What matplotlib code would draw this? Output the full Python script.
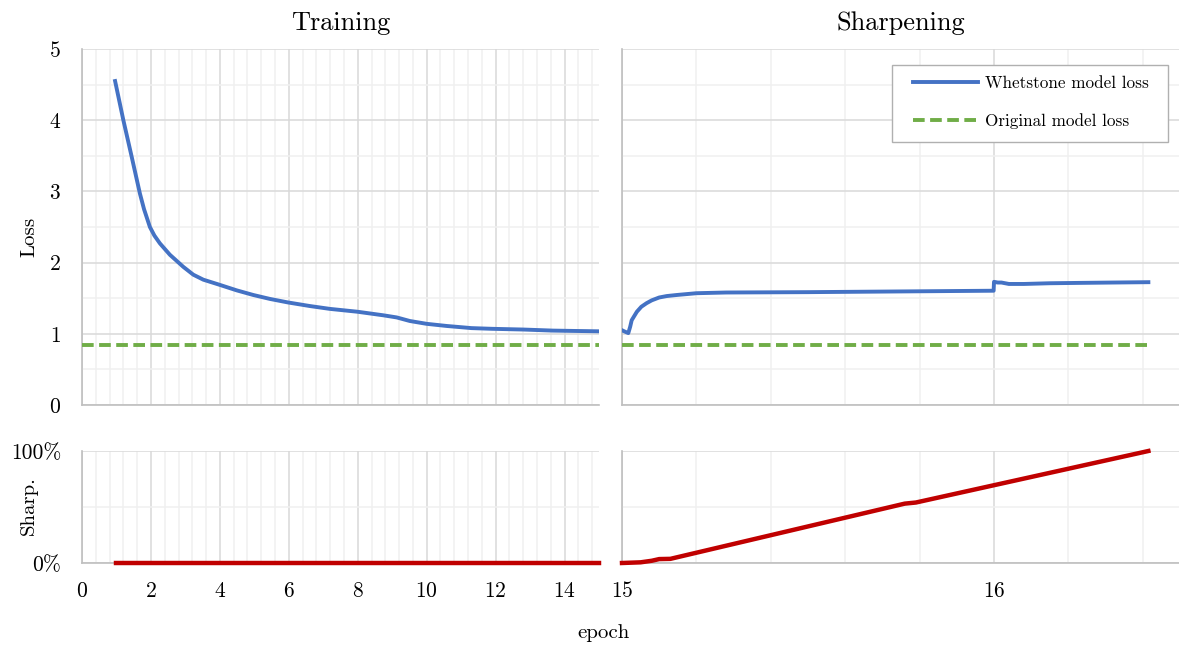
import matplotlib
matplotlib.use("Agg")
import matplotlib.pyplot as plt
from matplotlib.patches import Rectangle
from matplotlib.ticker import MultipleLocator, PercentFormatter, NullFormatter

plt.rcParams["font.family"] = ["cmr10", "DejaVu Serif"]
plt.rcParams["axes.formatter.use_mathtext"] = True

# ---- data -------------------------------------------------------------
train_epoch = [0.96, 1.2, 1.44, 1.68, 1.8, 1.97, 2.1, 2.26, 2.55, 2.94, 3.23,
               3.52, 3.98, 4.49, 4.97, 5.45, 5.98, 6.61, 7.19, 7.99, 8.74,
               9.13, 9.51, 10.0, 10.58, 11.3, 11.9, 12.8, 13.66, 14.3, 15.0]
train_loss = [4.55, 4.00, 3.49, 2.97, 2.75, 2.50, 2.38, 2.27, 2.11, 1.94, 1.83,
              1.76, 1.69, 1.61, 1.545, 1.49, 1.44, 1.39, 1.35, 1.31, 1.26,
              1.23, 1.18, 1.14, 1.11, 1.08, 1.07, 1.06, 1.045, 1.04, 1.035]

sharp_epoch = [15.0, 15.008, 15.017, 15.022, 15.026, 15.04, 15.052, 15.066,
               15.08, 15.1, 15.12, 15.147, 15.2, 15.28, 15.5, 15.75,
               15.999, 16.0, 16.01, 16.02, 16.04, 16.08, 16.15, 16.23, 16.32,
               16.415]
sharp_loss = [1.05, 1.03, 1.01, 1.10, 1.19, 1.31, 1.38, 1.43, 1.47, 1.51,
              1.53, 1.545, 1.57, 1.58, 1.585, 1.595,
              1.605, 1.73, 1.72, 1.72, 1.70, 1.70, 1.71, 1.715, 1.72,
              1.725]

original_loss = 0.84
train_span = [0, 15]
sharpen_span = [15, 16.41]

train_sharp_epoch = [1.0, 15.0]
train_sharp = [0.0, 0.0]

ramp_epoch = [15.0, 15.05, 15.08, 15.1, 15.13, 15.76, 15.79, 16.415]
ramp_sharp = [0.0, 0.006, 0.02, 0.035, 0.037, 0.53, 0.54, 1.0]

# ---- styling ----------------------------------------------------------
BLUE = "#4472C4"
GREEN = "#70AD47"
RED = "#C00000"
MAJOR = "#D9D9D9"
MINOR = "#F0F0F0"
SPINE = "#BFBFBF"
TICK_FS = 15.5
LABEL_FS = 15
TITLE_FS = 19

fig = plt.figure(figsize=(11.79, 6.45), dpi=100)

W, H = 1179.0, 645.0
def box(x0, y0, x1, y1):
    return [x0 / W, 1 - y1 / H, (x1 - x0) / W, (y1 - y0) / H]

ax_tl = fig.add_axes(box(82, 49, 599, 405))
ax_tr = fig.add_axes(box(622, 49, 1180, 405))
ax_bl = fig.add_axes(box(82, 451, 599, 563))
ax_br = fig.add_axes(box(622, 451, 1180, 563))


def style(ax, xmaj, xmin, ymaj, ymin):
    ax.xaxis.set_major_locator(MultipleLocator(xmaj))
    ax.xaxis.set_minor_locator(MultipleLocator(xmin))
    ax.yaxis.set_major_locator(MultipleLocator(ymaj))
    ax.yaxis.set_minor_locator(MultipleLocator(ymin))
    ax.grid(which="major", color=MAJOR, linewidth=1.1, zorder=0)
    ax.grid(which="minor", color=MINOR, linewidth=1.1, zorder=0)
    ax.set_axisbelow(True)
    for s in ("top", "right"):
        ax.spines[s].set_visible(False)
    for s in ("left", "bottom"):
        ax.spines[s].set_color(SPINE)
        ax.spines[s].set_linewidth(1.2)
    ax.tick_params(which="both", length=0, labelsize=TICK_FS)
    ax.tick_params(axis="y", pad=15)
    ax.tick_params(axis="x", pad=13)


# Training loss
style(ax_tl, 2, 0.4, 1, 0.5)
ax_tl.set_xlim(0, 15)
ax_tl.set_ylim(0, 5)
ax_tl.plot(train_epoch, train_loss, color=BLUE, lw=2.8, zorder=3)
ax_tl.plot(train_span, [original_loss] * 2, color=GREEN, lw=2.8, ls=(0, (3, 1.4)), zorder=3)
ax_tl.xaxis.set_major_formatter(NullFormatter())
ax_tl.set_title("Training", fontsize=TITLE_FS, pad=14)

# Sharpening loss
style(ax_tr, 1, 0.2, 1, 0.5)
ax_tr.set_xlim(15, 16.5)
ax_tr.set_ylim(0, 5)
ax_tr.plot(sharp_epoch, sharp_loss, color=BLUE, lw=2.8, label="Whetstone model loss", zorder=3)
ax_tr.plot(sharpen_span, [original_loss] * 2, color=GREEN, lw=2.8, ls=(0, (3, 1.4)),
           label="Original model loss", zorder=3)
ax_tr.xaxis.set_major_formatter(NullFormatter())
ax_tr.yaxis.set_major_formatter(NullFormatter())
ax_tr.set_title("Sharpening", fontsize=TITLE_FS, pad=14)

# legend frame drawn separately so the padding can differ per side
frame = Rectangle((891.5 / W, 1 - 141.7 / H), (1168 - 891.5) / W, (141.7 - 65) / H,
                  transform=fig.transFigure, facecolor="white",
                  edgecolor="#B0B0B0", linewidth=1.0, zorder=4, clip_on=False)
ax_tr.add_patch(frame)
leg = ax_tr.legend(loc="upper left", bbox_to_anchor=(908 / W, 1 - 71 / H),
                   bbox_transform=fig.transFigure, fontsize=12.3, frameon=False,
                   handlelength=3.8, handletextpad=0.4, labelspacing=1.3,
                   borderpad=0.3, borderaxespad=0)
leg.set_zorder(6)

# Sharpness during training
style(ax_bl, 2, 0.4, 1, 0.5)
ax_bl.set_xlim(0, 15)
ax_bl.set_ylim(0, 1)
ax_bl.plot(train_sharp_epoch, train_sharp, color=RED, lw=3.2, zorder=3, clip_on=False)
ax_bl.yaxis.set_major_formatter(PercentFormatter(xmax=1, decimals=0))

# Sharpness during sharpening
style(ax_br, 1, 0.2, 1, 0.5)
ax_br.set_xlim(15, 16.5)
ax_br.set_ylim(0, 1)
ax_br.plot(ramp_epoch, ramp_sharp, color=RED, lw=3.2, zorder=3, clip_on=False)
ax_br.yaxis.set_major_formatter(NullFormatter())

fig.text(29 / W, 1 - 237 / H, "Loss", fontsize=LABEL_FS, rotation=90,
         ha="center", va="center")
fig.text(29 / W, 1 - 506 / H, "Sharp.", fontsize=LABEL_FS, rotation=90,
         ha="center", va="center")
fig.text(603 / W, 1 - 633 / H, "epoch", fontsize=LABEL_FS, ha="center", va="center")

fig.savefig("out.png", dpi=100)
